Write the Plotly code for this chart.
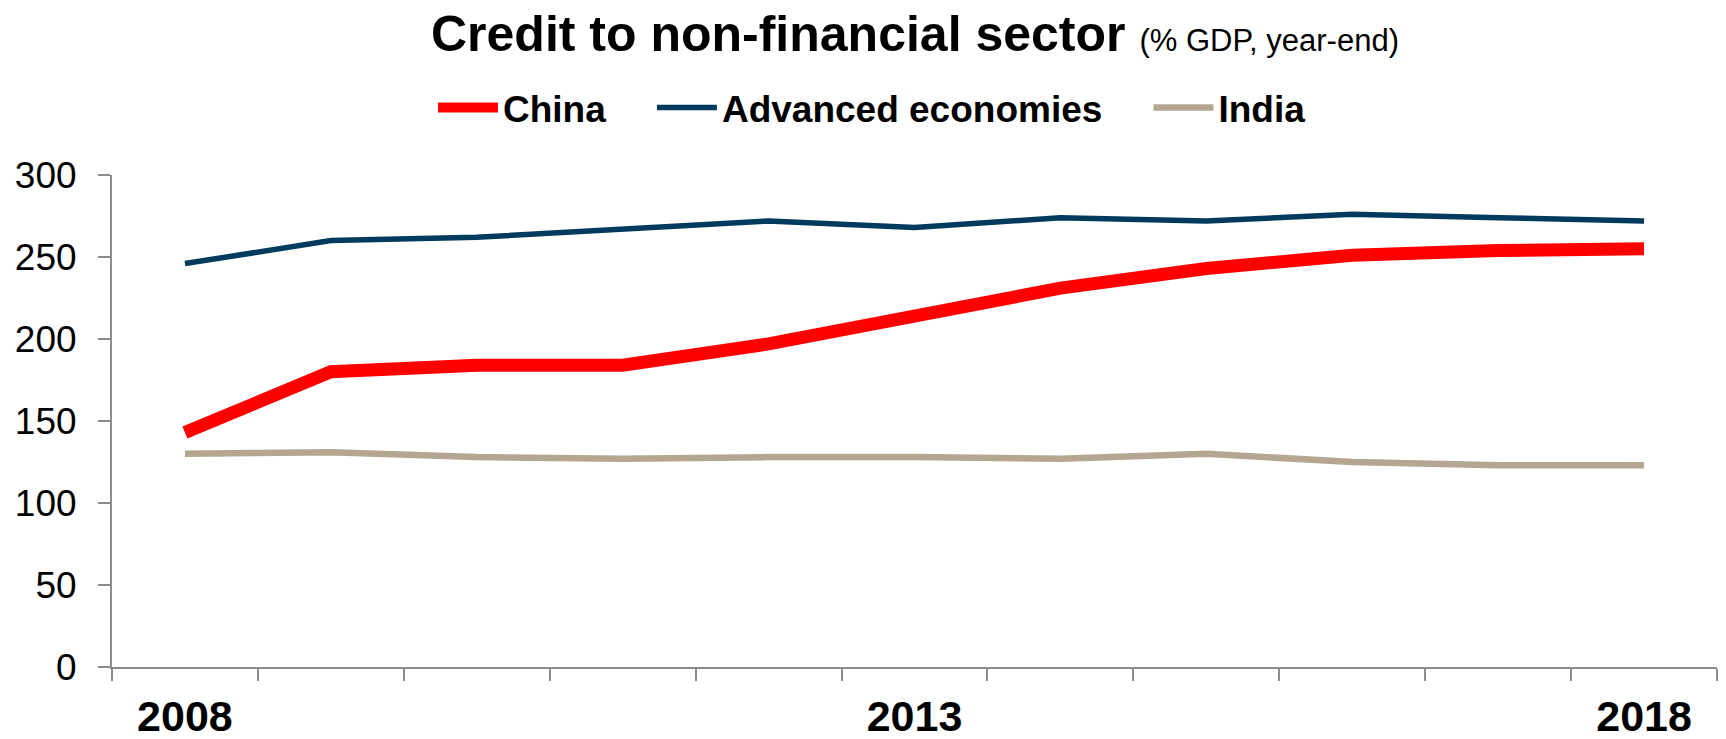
import plotly.graph_objects as go

years = [str(y) for y in range(2008, 2019)]
tick_text = ["2008", "", "", "", "", "2013", "", "", "", "", "2018"]
china = [143, 180, 184, 184, 197, 214, 231, 243, 251, 254, 255]
advanced = [246, 260, 262, 267, 272, 268, 274, 272, 276, 274, 272]
india = [130, 131, 128, 127, 128, 128, 127, 130, 125, 123, 123]

FONT = "Liberation Sans, Arial, sans-serif"
GAP = "\u00a0" * 4

fig = go.Figure()
fig.add_trace(go.Scatter(x=years, y=china, name="China" + GAP, mode="lines",
                         line=dict(color="#FF0000", width=13)))
fig.add_trace(go.Scatter(x=years, y=advanced, name="Advanced economies" + GAP, mode="lines",
                         line=dict(color="#003A5D", width=5.5)))
fig.add_trace(go.Scatter(x=years, y=india, name="India", mode="lines",
                         line=dict(color="#B5A692", width=6.5)))

fig.update_layout(
    width=1726, height=739,
    paper_bgcolor="white", plot_bgcolor="white",
    margin=dict(l=112, r=9, t=175, b=72),
    font=dict(family=FONT, color="black"),
    title=dict(
        text="<b>Credit to non-financial sector</b> <span style='font-size:31px'>(% GDP, year-end)</span>",
        font=dict(size=50, family=FONT, color="black"),
        x=915 / 1726, xanchor="center", xref="container",
        y=1 - 33 / 739, yanchor="middle", yref="container",
    ),
    legend=dict(
        orientation="h", xref="container", yref="container",
        x=433 / 1726, xanchor="left", y=1 - 108 / 739, yanchor="middle",
        font=dict(size=37, family=FONT, color="black", weight="bold"),
        itemwidth=60, traceorder="normal", bgcolor="rgba(0,0,0,0)",
    ),
    showlegend=True,
)

fig.update_xaxes(
    type="category", range=[-0.5, 10.5], automargin=False,
    tickmode="array", tickvals=years, ticktext=tick_text,
    tickson="boundaries", ticks="outside", ticklen=12, tickwidth=1.5, tickcolor="#8C8C8C",
    showline=True, linecolor="#8C8C8C", linewidth=2, showgrid=False, zeroline=False,
    tickfont=dict(size=43, family=FONT, color="black", weight="bold"),
    ticklabelstandoff=10,
)
fig.update_yaxes(
    range=[0, 300], automargin=False, tickmode="array", tickvals=[0, 50, 100, 150, 200, 250, 300],
    ticks="outside", ticklen=12, tickwidth=1.5, tickcolor="#8C8C8C",
    showline=True, linecolor="#8C8C8C", linewidth=2, showgrid=False, zeroline=False,
    tickfont=dict(size=37, family=FONT, color="black"),
    ticklabelstandoff=14,
)

fig.write_html("out.html")
